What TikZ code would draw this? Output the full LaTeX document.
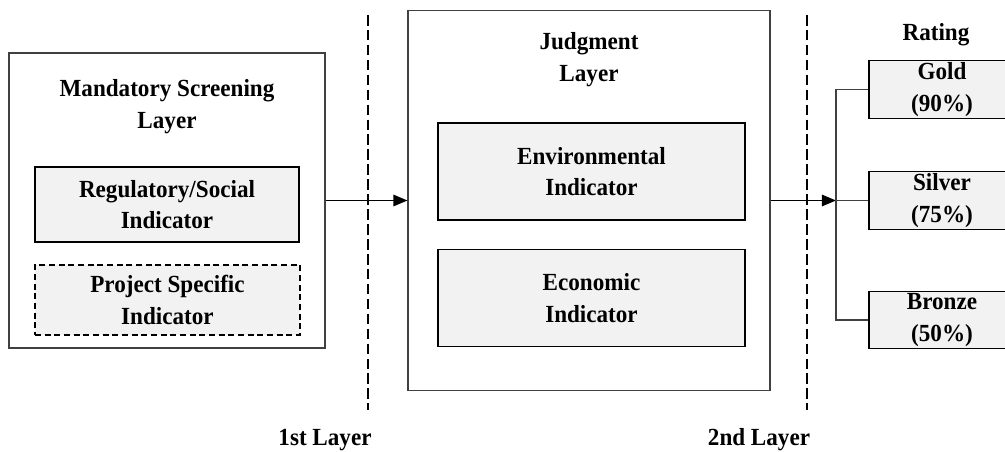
\documentclass[tikz,border=0pt]{standalone}
\usepackage{fontspec}
\setmainfont[FakeStretch=0.94]{Liberation Serif}
\usetikzlibrary{arrows.meta}
\begin{document}
\begin{tikzpicture}[font=\bfseries\fontsize{14}{18}\selectfont]
\tikzstyle{layer}=[rectangle,draw=black!75,line width=0.6pt,anchor=center]
\tikzstyle{indicator}=[rectangle,draw=black,fill=gray!10,line width=0.6pt,align=center,text centered]
\tikzstyle{grade}=[indicator,minimum width=2.92 cm,minimum height=1.15 cm,inner sep=0pt]
\tikzstyle{label}=[rectangle,align=center,text centered]
\tikzstyle{border}=[line width=1pt,dash pattern=on 6pt off 2.5pt]
\tikzstyle{flow}=[-{Triangle[length=8pt,width=6.5pt]},line width=0.9pt]

\useasboundingbox (0,0) rectangle (20.1,-9.04);

\node [layer,minimum width=6.32 cm,minimum height=5.9 cm] at (3.34,-4.01) (screen) {};
\node [label] at (3.34,-2.13) (screenLabel) {Mandatory Screening\\Layer};
\node [indicator,minimum width=5.28 cm,minimum height=1.5 cm] at (3.34,-4.09) (social) {Regulatory/Social\\Indicator};
\node [indicator,line width=0.9pt,dash pattern=on 3.5pt off 2pt,minimum width=5.3 cm,minimum height=1.4 cm] at (3.35,-6.0) (project) {Project Specific\\Indicator};

\node [layer,minimum width=7.24 cm,minimum height=7.6 cm] at (11.78,-4.01) (judge) {};
\node [label] at (11.78,-1.19) (judgeLabel) {Judgment\\Layer};
\node [indicator,minimum width=6.14 cm,minimum height=1.94 cm] at (11.83,-3.43) (env) {Environmental\\Indicator};
\node [indicator,minimum width=6.14 cm,minimum height=1.94 cm] at (11.83,-5.96) (eco) {Economic\\Indicator};

\node [label] at (18.72,-0.7) (rating) {Rating};
\node [grade] at (18.84,-1.79) (gold) {Gold\\(90\%)};
\node [grade] at (18.84,-4.01) (silver) {Silver\\(75\%)};
\node [grade] at (18.84,-6.4) (bronze) {Bronze\\(50\%)};

% layer borders
\draw [border] (7.36,-0.3) -- (7.36,-8.2);
\draw [border] (16.14,-0.3) -- (16.14,-8.2);
\node [label] at (6.5,-8.8) (first) {1st Layer};
\node [label] at (15.18,-8.8) (second) {2nd Layer};

\coordinate (split) at (16.72,-4.01);
\draw [flow] (screen.east) -- (judge.west);
\draw [flow] (judge.east) -- (split);
\draw [black!75,line width=0.6pt] (split) |- (gold.west);
\draw [black!75,line width=0.6pt] (split) -- (silver.west);
\draw [black!75,line width=0.6pt] (split) |- (bronze.west);
\end{tikzpicture}
\end{document}
